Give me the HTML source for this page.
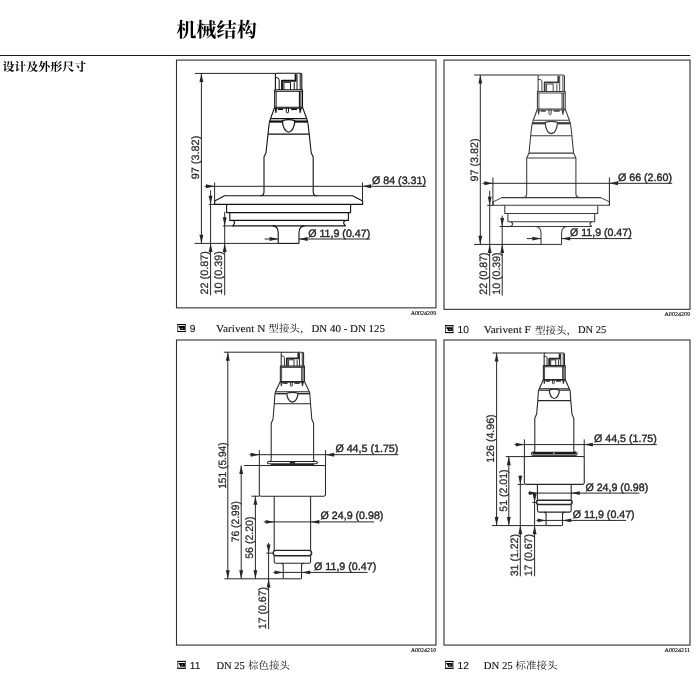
<!DOCTYPE html>
<html lang="zh"><head><meta charset="utf-8"><title>机械结构</title>
<style>
html,body{margin:0;padding:0;background:#fff;}
body{width:698px;height:680px;overflow:hidden;font-family:"Liberation Sans",sans-serif;}
svg{display:block;position:absolute;left:0;top:0;filter:grayscale(1);}
text{white-space:pre;}
</style></head><body>
<svg width="698" height="680" viewBox="0 0 698 680" shape-rendering="geometricPrecision" text-rendering="geometricPrecision">
<rect x="0" y="0" width="698" height="680" fill="#fff"/>
<text x="176.20" y="36.60" font-family="'Liberation Serif', 'Noto Serif CJK SC', serif" font-weight="bold" font-size="20.2" fill="#000" textLength="80.6" lengthAdjust="spacingAndGlyphs">机械结构</text>
<path d="M0.00 55.50L690.30 55.50" stroke="#1a1a1a" stroke-width="1.05" fill="none" />
<text x="2.40" y="71.30" font-family="'Liberation Serif', 'Noto Serif CJK SC', serif" font-weight="bold" font-size="12" fill="#000" textLength="83.9" lengthAdjust="spacingAndGlyphs">设计及外形尺寸</text>
<rect x="176.5" y="60.1" width="259.45" height="247.75" fill="none" stroke="#303030" stroke-width="1.1"/>
<rect x="444.0" y="60.1" width="246.00" height="249.25" fill="none" stroke="#303030" stroke-width="1.1"/>
<rect x="176.5" y="340.0" width="259.45" height="305.10" fill="none" stroke="#303030" stroke-width="1.1"/>
<rect x="444.0" y="340.0" width="246.00" height="305.10" fill="none" stroke="#303030" stroke-width="1.1"/>
<text x="436.2" y="314.9" text-anchor="end" font-family="'Liberation Serif', serif" font-size="5.8" fill="#000" stroke="#000" stroke-width="0.12" textLength="25.5" lengthAdjust="spacingAndGlyphs">A0024209</text>
<text x="690.0" y="316.1" text-anchor="end" font-family="'Liberation Serif', serif" font-size="5.8" fill="#000" stroke="#000" stroke-width="0.12" textLength="25.5" lengthAdjust="spacingAndGlyphs">A0024209</text>
<text x="436.2" y="652.0" text-anchor="end" font-family="'Liberation Serif', serif" font-size="5.8" fill="#000" stroke="#000" stroke-width="0.12" textLength="25.5" lengthAdjust="spacingAndGlyphs">A0024210</text>
<text x="690.0" y="652.0" text-anchor="end" font-family="'Liberation Serif', serif" font-size="5.8" fill="#000" stroke="#000" stroke-width="0.12" textLength="25.5" lengthAdjust="spacingAndGlyphs">A0024211</text>
<rect x="177.75" y="324.60" width="7.6" height="6.9" fill="#fff" stroke="#444" stroke-width="0.9"/>
<path d="M177.30 324.60L185.80 324.60" stroke="#000" stroke-width="1.0" fill="none" />
<path d="M177.30 331.50L185.80 331.50" stroke="#000" stroke-width="1.0" fill="none" />
<path d="M178.60 326.10H184.90V330.00H180.20L179.80 328.10L178.60 327.30Z" fill="#000"/>
<ellipse cx="182.30" cy="328.30" rx="0.9" ry="0.55" fill="#bbb" transform="rotate(-25 182.30 328.30)"/>
<text x="189.80" y="331.90" font-family="'Liberation Sans', sans-serif" font-size="10.2" fill="#111" stroke="#111" stroke-width="0.1" >9</text>
<text x="216.10" y="332.30" font-family="'Liberation Serif', sans-serif" font-size="10.5" fill="#111" stroke="#111" stroke-width="0.12" textLength="49.3" lengthAdjust="spacingAndGlyphs" >Varivent N</text>
<text x="268.40" y="332.40" font-family="'Liberation Serif', 'Noto Serif CJK SC', serif" font-size="10.3" fill="#111" textLength="42" lengthAdjust="spacingAndGlyphs">型接头，</text>
<text x="311.40" y="332.30" font-family="'Liberation Serif', sans-serif" font-size="10.5" fill="#111" stroke="#111" stroke-width="0.12" textLength="73.6" lengthAdjust="spacingAndGlyphs" >DN 40 - DN 125</text>
<rect x="445.45" y="325.70" width="7.6" height="6.9" fill="#fff" stroke="#444" stroke-width="0.9"/>
<path d="M445.00 325.70L453.50 325.70" stroke="#000" stroke-width="1.0" fill="none" />
<path d="M445.00 332.60L453.50 332.60" stroke="#000" stroke-width="1.0" fill="none" />
<path d="M446.30 327.20H452.60V331.10H447.90L447.50 329.20L446.30 328.40Z" fill="#000"/>
<ellipse cx="450.00" cy="329.40" rx="0.9" ry="0.55" fill="#bbb" transform="rotate(-25 450.00 329.40)"/>
<text x="457.50" y="333.00" font-family="'Liberation Sans', sans-serif" font-size="10.2" fill="#111" stroke="#111" stroke-width="0.1" >10</text>
<text x="483.80" y="333.40" font-family="'Liberation Serif', sans-serif" font-size="10.5" fill="#111" stroke="#111" stroke-width="0.12" textLength="47.0" lengthAdjust="spacingAndGlyphs" >Varivent F</text>
<text x="535.00" y="333.50" font-family="'Liberation Serif', 'Noto Serif CJK SC', serif" font-size="10.3" fill="#111" textLength="42" lengthAdjust="spacingAndGlyphs">型接头，</text>
<text x="578.00" y="333.40" font-family="'Liberation Serif', sans-serif" font-size="10.5" fill="#111" stroke="#111" stroke-width="0.12" textLength="28.3" lengthAdjust="spacingAndGlyphs" >DN 25</text>
<rect x="177.75" y="661.40" width="7.6" height="6.9" fill="#fff" stroke="#444" stroke-width="0.9"/>
<path d="M177.30 661.40L185.80 661.40" stroke="#000" stroke-width="1.0" fill="none" />
<path d="M177.30 668.30L185.80 668.30" stroke="#000" stroke-width="1.0" fill="none" />
<path d="M178.60 662.90H184.90V666.80H180.20L179.80 664.90L178.60 664.10Z" fill="#000"/>
<ellipse cx="182.30" cy="665.10" rx="0.9" ry="0.55" fill="#bbb" transform="rotate(-25 182.30 665.10)"/>
<text x="189.80" y="668.70" font-family="'Liberation Sans', sans-serif" font-size="10.2" fill="#111" stroke="#111" stroke-width="0.1" >11</text>
<text x="216.40" y="669.10" font-family="'Liberation Serif', sans-serif" font-size="10.5" fill="#111" stroke="#111" stroke-width="0.12" textLength="28.4" lengthAdjust="spacingAndGlyphs" >DN 25</text>
<text x="248.00" y="669.20" font-family="'Liberation Serif', 'Noto Serif CJK SC', serif" font-size="10.3" fill="#111" textLength="42" lengthAdjust="spacingAndGlyphs">棕色接头</text>
<rect x="445.45" y="661.40" width="7.6" height="6.9" fill="#fff" stroke="#444" stroke-width="0.9"/>
<path d="M445.00 661.40L453.50 661.40" stroke="#000" stroke-width="1.0" fill="none" />
<path d="M445.00 668.30L453.50 668.30" stroke="#000" stroke-width="1.0" fill="none" />
<path d="M446.30 662.90H452.60V666.80H447.90L447.50 664.90L446.30 664.10Z" fill="#000"/>
<ellipse cx="450.00" cy="665.10" rx="0.9" ry="0.55" fill="#bbb" transform="rotate(-25 450.00 665.10)"/>
<text x="457.50" y="668.70" font-family="'Liberation Sans', sans-serif" font-size="10.2" fill="#111" stroke="#111" stroke-width="0.1" >12</text>
<text x="483.80" y="669.10" font-family="'Liberation Serif', sans-serif" font-size="10.5" fill="#111" stroke="#111" stroke-width="0.12" textLength="28.9" lengthAdjust="spacingAndGlyphs" >DN 25</text>
<text x="515.60" y="669.20" font-family="'Liberation Serif', 'Noto Serif CJK SC', serif" font-size="10.3" fill="#111" textLength="42" lengthAdjust="spacingAndGlyphs">标准接头</text>
<path d="M275.40 89.80V74.90Q275.40 73.30 277.00 73.30H300.20Q301.80 73.30 301.80 74.90V89.80" stroke="#111" stroke-width="1.1" fill="none" stroke-linejoin="round" />
<path d="M275.40 77.50Q279.20 77.50 279.20 79.80V89.80" stroke="#111" stroke-width="0.9900000000000001" fill="none" stroke-linejoin="round" />
<path d="M282.00 89.80V80.70H295.60V74.10" stroke="#111" stroke-width="1.87" fill="none" stroke-linejoin="round" stroke-linejoin="miter"/>
<path d="M283.90 89.80V82.30H290.50V89.80" stroke="#111" stroke-width="0.9900000000000001" fill="none" stroke-linejoin="round" />
<path d="M294.20 82.30L294.20 89.80" stroke="#111" stroke-width="0.9900000000000001" fill="none" />
<path d="M297.00 74.30L297.00 89.80" stroke="#111" stroke-width="0.9900000000000001" fill="none" />
<path d="M300.20 73.90L300.20 89.80" stroke="#111" stroke-width="0.9900000000000001" fill="none" />
<path d="M274.70 89.80H302.50V107.30H274.70Z" stroke="#111" stroke-width="1.1" fill="none" stroke-linejoin="round" />
<path d="M274.70 91.30L302.50 91.30" stroke="#111" stroke-width="0.9900000000000001" fill="none" />
<path d="M276.20 91.30L276.20 107.30" stroke="#111" stroke-width="0.8800000000000001" fill="none" />
<path d="M299.40 91.30L299.40 107.30" stroke="#111" stroke-width="1.1" fill="none" />
<path d="M300.90 91.30L300.90 107.30" stroke="#111" stroke-width="0.9900000000000001" fill="none" />
<path d="M274.70 108.30L302.50 108.30" stroke="#111" stroke-width="0.8800000000000001" fill="none" />
<path d="M286.30 107.30V111.90Q286.30 112.90 287.40 112.90Q288.50 112.90 288.50 111.90V107.30" stroke="#111" stroke-width="0.9900000000000001" fill="none" stroke-linejoin="round" />
<path d="M278.00 109.20L283.00 109.20" stroke="#111" stroke-width="1.6500000000000001" fill="none" />
<path d="M291.00 109.20L297.00 109.20" stroke="#111" stroke-width="1.6500000000000001" fill="none" />
<path d="M275.30 108.30L275.80 112.80L276.80 108.30Z" stroke="#111" stroke-width="0.8800000000000001" fill="#111" stroke-linejoin="round" />
<path d="M299.40 108.30L300.20 112.80L301.20 108.30Z" stroke="#111" stroke-width="0.8800000000000001" fill="#111" stroke-linejoin="round" />
<path d="M274.70 107.30L270.50 118.60" stroke="#111" stroke-width="1.1" fill="none" />
<path d="M302.50 107.30L306.70 118.60" stroke="#111" stroke-width="1.1" fill="none" />
<path d="M270.50 118.60L306.70 118.60" stroke="#111" stroke-width="1.1" fill="none" />
<path d="M270.50 118.60L269.30 122.70" stroke="#111" stroke-width="1.1" fill="none" />
<path d="M306.70 118.60L307.90 122.70" stroke="#111" stroke-width="1.1" fill="none" />
<path d="M269.60 121.55L282.45 121.55" stroke="#111" stroke-width="2.2549999999999972" fill="none" />
<path d="M294.75 121.55L307.60 121.55" stroke="#111" stroke-width="2.2549999999999972" fill="none" />
<path d="M282.45 120.63Q288.60 118.83 294.75 120.63C294.75 126.62 291.98 132.00 288.60 132.00C285.22 132.00 282.45 126.62 282.45 120.63Z" stroke="#111" stroke-width="1.2100000000000002" fill="#fff" stroke-linejoin="round" />
<path d="M269.30 122.70L268.00 134.10" stroke="#111" stroke-width="1.1" fill="none" />
<path d="M307.90 122.70L309.20 134.10" stroke="#111" stroke-width="1.1" fill="none" />
<path d="M268.00 134.10L309.20 134.10" stroke="#111" stroke-width="1.1" fill="none" />
<path d="M268.00 134.10L266.00 152.70L264.00 156.90V191.80Q264.00 195.80 260.40 195.80" stroke="#111" stroke-width="1.1" fill="none" stroke-linejoin="round" />
<path d="M309.20 134.10L311.20 152.70L313.20 156.90V191.80Q313.20 195.80 316.80 195.80" stroke="#111" stroke-width="1.1" fill="none" stroke-linejoin="round" />
<path d="M214.60 204.40V201.00L224.60 195.80H352.60L362.60 201.00V204.40Z" stroke="#111" stroke-width="1.1" fill="none" stroke-linejoin="round" />
<path d="M226.60 204.40V212.60H350.60V204.40" stroke="#111" stroke-width="1.1" fill="none" stroke-linejoin="round" />
<path d="M229.80 212.60V220.40H348.40V212.60" stroke="#111" stroke-width="1.1" fill="none" stroke-linejoin="round" />
<path d="M232.80 220.40Q235.20 222.00 234.40 223.40Q233.60 224.90 232.60 225.90" stroke="#111" stroke-width="1.1" fill="none" stroke-linejoin="round" />
<path d="M345.40 220.40Q343.00 222.00 343.80 223.40Q344.60 224.90 345.60 225.90" stroke="#111" stroke-width="1.1" fill="none" stroke-linejoin="round" />
<path d="M232.60 225.90L345.60 225.90" stroke="#111" stroke-width="1.1" fill="none" />
<path d="M272.80 225.90Q278.00 226.20 278.20 232.40V242.70Q278.20 243.40 278.90 243.40" stroke="#111" stroke-width="1.1" fill="none" stroke-linejoin="round" />
<path d="M304.40 225.90Q299.20 226.20 299.00 232.40V242.70Q299.00 243.40 298.30 243.40" stroke="#111" stroke-width="1.1" fill="none" stroke-linejoin="round" />
<path d="M278.20 243.40L299.00 243.40" stroke="#111" stroke-width="1.1" fill="none" />
<path d="M194.80 73.40L276.50 73.40" stroke="#262626" stroke-width="1.0" fill="none" />
<path d="M194.60 243.40L278.20 243.40" stroke="#262626" stroke-width="1.0" fill="none" />
<path d="M201.40 73.40L201.40 243.40" stroke="#262626" stroke-width="1.0" fill="none" />
<polygon points="201.40,73.40 199.45,82.00 203.35,82.00" fill="#262626"/>
<polygon points="201.40,243.40 199.45,234.80 203.35,234.80" fill="#262626"/>
<text transform="translate(199.00 179.30) rotate(-90)" font-family="'Liberation Sans', sans-serif" font-size="10.7" fill="#262626" stroke="#262626" stroke-width="0.24" textLength="43.6" lengthAdjust="spacingAndGlyphs">97 (3.82)</text>
<path d="M214.60 182.50L214.60 204.20" stroke="#262626" stroke-width="1.0" fill="none" />
<path d="M362.50 182.50L362.50 204.20" stroke="#262626" stroke-width="1.0" fill="none" />
<path d="M204.50 186.30L426.00 186.30" stroke="#262626" stroke-width="1.0" fill="none" />
<polygon points="214.60,186.30 206.00,184.35 206.00,188.25" fill="#262626"/>
<polygon points="362.50,186.30 371.10,184.35 371.10,188.25" fill="#262626"/>
<text x="372.00" y="183.80" font-family="'Liberation Sans', sans-serif" font-size="10.7" fill="#262626" stroke="#262626" stroke-width="0.4" textLength="54.0" lengthAdjust="spacingAndGlyphs" >Ø 84 (3.31)</text>
<path d="M208.90 204.40L214.60 204.40" stroke="#262626" stroke-width="1.0" fill="none" />
<path d="M210.60 190.30L210.60 295.40" stroke="#262626" stroke-width="1.0" fill="none" />
<polygon points="210.60,204.40 208.65,195.80 212.55,195.80" fill="#262626"/>
<polygon points="210.60,243.40 208.65,252.00 212.55,252.00" fill="#262626"/>
<text transform="translate(208.30 294.50) rotate(-90)" font-family="'Liberation Sans', sans-serif" font-size="10.7" fill="#262626" stroke="#262626" stroke-width="0.24" textLength="43.3" lengthAdjust="spacingAndGlyphs">22 (0.87)</text>
<path d="M222.90 225.90L234.00 225.90" stroke="#262626" stroke-width="1.0" fill="none" />
<path d="M224.70 211.70L224.70 295.40" stroke="#262626" stroke-width="1.0" fill="none" />
<polygon points="224.70,225.90 222.75,217.30 226.65,217.30" fill="#262626"/>
<polygon points="224.70,243.40 222.75,252.00 226.65,252.00" fill="#262626"/>
<text transform="translate(222.40 294.50) rotate(-90)" font-family="'Liberation Sans', sans-serif" font-size="10.7" fill="#262626" stroke="#262626" stroke-width="0.24" textLength="43.3" lengthAdjust="spacingAndGlyphs">10 (0.39)</text>
<path d="M264.60 239.00L278.20 239.00" stroke="#262626" stroke-width="1.0" fill="none" />
<polygon points="278.20,239.00 269.60,237.05 269.60,240.95" fill="#262626"/>
<path d="M299.00 239.00L370.20 239.00" stroke="#262626" stroke-width="1.0" fill="none" />
<polygon points="299.00,239.00 307.60,237.05 307.60,240.95" fill="#262626"/>
<text x="308.20" y="236.60" font-family="'Liberation Sans', sans-serif" font-size="10.7" fill="#262626" stroke="#262626" stroke-width="0.4" textLength="62.0" lengthAdjust="spacingAndGlyphs" >Ø 11,9 (0.47)</text>
<path d="M538.10 91.50V76.60Q538.10 75.00 539.70 75.00H562.90Q564.50 75.00 564.50 76.60V91.50" stroke="#3a3a3a" stroke-width="1.05" fill="none" stroke-linejoin="round" />
<path d="M538.10 79.20Q541.90 79.20 541.90 81.50V91.50" stroke="#3a3a3a" stroke-width="0.9450000000000001" fill="none" stroke-linejoin="round" />
<path d="M544.70 91.50V82.40H558.30V75.80" stroke="#3a3a3a" stroke-width="1.785" fill="none" stroke-linejoin="round" stroke-linejoin="miter"/>
<path d="M546.60 91.50V84.00H553.20V91.50" stroke="#3a3a3a" stroke-width="0.9450000000000001" fill="none" stroke-linejoin="round" />
<path d="M556.90 84.00L556.90 91.50" stroke="#3a3a3a" stroke-width="0.9450000000000001" fill="none" />
<path d="M559.70 76.00L559.70 91.50" stroke="#3a3a3a" stroke-width="0.9450000000000001" fill="none" />
<path d="M562.90 75.60L562.90 91.50" stroke="#3a3a3a" stroke-width="0.9450000000000001" fill="none" />
<path d="M537.40 91.50H565.20V109.00H537.40Z" stroke="#3a3a3a" stroke-width="1.05" fill="none" stroke-linejoin="round" />
<path d="M537.40 93.00L565.20 93.00" stroke="#3a3a3a" stroke-width="0.9450000000000001" fill="none" />
<path d="M538.90 93.00L538.90 109.00" stroke="#3a3a3a" stroke-width="0.8400000000000001" fill="none" />
<path d="M562.10 93.00L562.10 109.00" stroke="#3a3a3a" stroke-width="1.05" fill="none" />
<path d="M563.60 93.00L563.60 109.00" stroke="#3a3a3a" stroke-width="0.9450000000000001" fill="none" />
<path d="M537.40 110.00L565.20 110.00" stroke="#3a3a3a" stroke-width="0.8400000000000001" fill="none" />
<path d="M549.00 109.00V113.60Q549.00 114.60 550.10 114.60Q551.20 114.60 551.20 113.60V109.00" stroke="#3a3a3a" stroke-width="0.9450000000000001" fill="none" stroke-linejoin="round" />
<path d="M540.70 110.90L545.70 110.90" stroke="#3a3a3a" stroke-width="1.5750000000000002" fill="none" />
<path d="M553.70 110.90L559.70 110.90" stroke="#3a3a3a" stroke-width="1.5750000000000002" fill="none" />
<path d="M538.00 110.00L538.50 114.50L539.50 110.00Z" stroke="#3a3a3a" stroke-width="0.8400000000000001" fill="#3a3a3a" stroke-linejoin="round" />
<path d="M562.10 110.00L562.90 114.50L563.90 110.00Z" stroke="#3a3a3a" stroke-width="0.8400000000000001" fill="#3a3a3a" stroke-linejoin="round" />
<path d="M537.40 109.00L533.20 120.30" stroke="#3a3a3a" stroke-width="1.05" fill="none" />
<path d="M565.20 109.00L569.40 120.30" stroke="#3a3a3a" stroke-width="1.05" fill="none" />
<path d="M533.20 120.30L569.40 120.30" stroke="#3a3a3a" stroke-width="1.05" fill="none" />
<path d="M533.20 120.30L532.00 124.40" stroke="#3a3a3a" stroke-width="1.05" fill="none" />
<path d="M569.40 120.30L570.60 124.40" stroke="#3a3a3a" stroke-width="1.05" fill="none" />
<path d="M532.30 123.25L545.15 123.25" stroke="#3a3a3a" stroke-width="2.255000000000005" fill="none" />
<path d="M557.45 123.25L570.30 123.25" stroke="#3a3a3a" stroke-width="2.255000000000005" fill="none" />
<path d="M545.15 122.33Q551.30 120.53 557.45 122.33C557.45 128.32 554.68 133.70 551.30 133.70C547.92 133.70 545.15 128.32 545.15 122.33Z" stroke="#3a3a3a" stroke-width="1.1550000000000002" fill="#fff" stroke-linejoin="round" />
<path d="M532.00 124.40L530.70 135.80" stroke="#3a3a3a" stroke-width="1.05" fill="none" />
<path d="M570.60 124.40L571.90 135.80" stroke="#3a3a3a" stroke-width="1.05" fill="none" />
<path d="M530.70 135.80L571.90 135.80" stroke="#3a3a3a" stroke-width="1.05" fill="none" />
<path d="M530.70 135.80L529.00 153.10L526.70 157.90V193.60Q526.70 197.60 523.30 197.60" stroke="#3a3a3a" stroke-width="1.05" fill="none" stroke-linejoin="round" />
<path d="M571.90 135.80L573.60 153.10L575.90 157.90V193.60Q575.90 197.60 579.30 197.60" stroke="#3a3a3a" stroke-width="1.05" fill="none" stroke-linejoin="round" />
<path d="M529.00 153.10L573.60 153.10" stroke="#3a3a3a" stroke-width="1.05" fill="none" />
<path d="M526.70 157.90L575.90 157.90" stroke="#3a3a3a" stroke-width="1.05" fill="none" />
<path d="M493.10 205.30V201.90L501.90 197.60H600.70L609.50 201.90V205.30Z" stroke="#3a3a3a" stroke-width="1.05" fill="none" stroke-linejoin="round" />
<path d="M504.80 205.30V213.50H597.80V205.30" stroke="#3a3a3a" stroke-width="1.05" fill="none" stroke-linejoin="round" />
<path d="M507.90 213.50V221.80H594.70V213.50" stroke="#3a3a3a" stroke-width="1.05" fill="none" stroke-linejoin="round" />
<path d="M510.90 221.80Q513.30 223.40 512.50 224.80Q511.70 225.50 510.70 226.50" stroke="#3a3a3a" stroke-width="1.05" fill="none" stroke-linejoin="round" />
<path d="M591.70 221.80Q589.30 223.40 590.10 224.80Q590.90 225.50 591.90 226.50" stroke="#3a3a3a" stroke-width="1.05" fill="none" stroke-linejoin="round" />
<path d="M510.70 226.50L591.90 226.50" stroke="#3a3a3a" stroke-width="1.05" fill="none" />
<path d="M535.60 226.50Q540.80 226.80 541.00 233.00V243.70Q541.00 244.40 541.70 244.40" stroke="#3a3a3a" stroke-width="1.05" fill="none" stroke-linejoin="round" />
<path d="M567.00 226.50Q561.80 226.80 561.60 233.00V243.70Q561.60 244.40 560.90 244.40" stroke="#3a3a3a" stroke-width="1.05" fill="none" stroke-linejoin="round" />
<path d="M541.00 244.40L561.60 244.40" stroke="#3a3a3a" stroke-width="1.05" fill="none" />
<path d="M474.00 75.00L538.50 75.00" stroke="#262626" stroke-width="1.0" fill="none" />
<path d="M474.00 244.40L541.00 244.40" stroke="#262626" stroke-width="1.0" fill="none" />
<path d="M480.30 75.00L480.30 244.40" stroke="#262626" stroke-width="1.0" fill="none" />
<polygon points="480.30,75.00 478.35,83.60 482.25,83.60" fill="#262626"/>
<polygon points="480.30,244.40 478.35,235.80 482.25,235.80" fill="#262626"/>
<text transform="translate(477.90 181.40) rotate(-90)" font-family="'Liberation Sans', sans-serif" font-size="10.7" fill="#262626" stroke="#262626" stroke-width="0.24" textLength="43.0" lengthAdjust="spacingAndGlyphs">97 (3.82)</text>
<path d="M492.90 177.50L492.90 205.30" stroke="#262626" stroke-width="1.0" fill="none" />
<path d="M609.40 177.50L609.40 205.30" stroke="#262626" stroke-width="1.0" fill="none" />
<path d="M482.50 183.30L672.20 183.30" stroke="#262626" stroke-width="1.0" fill="none" />
<polygon points="492.90,183.30 484.30,181.35 484.30,185.25" fill="#262626"/>
<polygon points="609.40,183.30 618.00,181.35 618.00,185.25" fill="#262626"/>
<text x="617.90" y="180.90" font-family="'Liberation Sans', sans-serif" font-size="10.7" fill="#262626" stroke="#262626" stroke-width="0.4" textLength="54.1" lengthAdjust="spacingAndGlyphs" >Ø 66 (2.60)</text>
<path d="M487.20 205.30L493.00 205.30" stroke="#262626" stroke-width="1.0" fill="none" />
<path d="M489.70 190.90L489.70 295.60" stroke="#262626" stroke-width="1.0" fill="none" />
<polygon points="489.70,205.30 487.75,196.70 491.65,196.70" fill="#262626"/>
<polygon points="489.70,244.40 487.75,253.00 491.65,253.00" fill="#262626"/>
<text transform="translate(487.40 294.70) rotate(-90)" font-family="'Liberation Sans', sans-serif" font-size="10.7" fill="#262626" stroke="#262626" stroke-width="0.24" textLength="42.3" lengthAdjust="spacingAndGlyphs">22 (0.87)</text>
<path d="M499.60 226.50L511.00 226.50" stroke="#262626" stroke-width="1.0" fill="none" />
<path d="M502.20 215.60L502.20 295.60" stroke="#262626" stroke-width="1.0" fill="none" />
<polygon points="502.20,226.50 500.25,217.90 504.15,217.90" fill="#262626"/>
<polygon points="502.20,244.40 500.25,253.00 504.15,253.00" fill="#262626"/>
<text transform="translate(499.90 294.70) rotate(-90)" font-family="'Liberation Sans', sans-serif" font-size="10.7" fill="#262626" stroke="#262626" stroke-width="0.24" textLength="42.3" lengthAdjust="spacingAndGlyphs">10 (0.39)</text>
<path d="M526.90 238.60L541.00 238.60" stroke="#262626" stroke-width="1.0" fill="none" />
<polygon points="541.00,238.60 532.40,236.65 532.40,240.55" fill="#262626"/>
<path d="M561.60 238.60L631.70 238.60" stroke="#262626" stroke-width="1.0" fill="none" />
<polygon points="561.60,238.60 570.20,236.65 570.20,240.55" fill="#262626"/>
<text x="570.00" y="236.20" font-family="'Liberation Sans', sans-serif" font-size="10.7" fill="#262626" stroke="#262626" stroke-width="0.4" textLength="61.7" lengthAdjust="spacingAndGlyphs" >Ø 11,9 (0.47)</text>
<path d="M281.20 366.10V353.56Q281.20 352.20 282.56 352.20H302.24Q303.60 352.20 303.60 353.56V366.10" stroke="#262626" stroke-width="1.05" fill="none" stroke-linejoin="round" />
<path d="M281.20 355.74Q284.42 355.74 284.42 357.68V366.10" stroke="#262626" stroke-width="0.9450000000000001" fill="none" stroke-linejoin="round" />
<path d="M286.80 366.10V358.43H298.34V352.87" stroke="#262626" stroke-width="1.785" fill="none" stroke-linejoin="round" stroke-linejoin="miter"/>
<path d="M288.41 366.10V359.78H294.01V366.10" stroke="#262626" stroke-width="0.9450000000000001" fill="none" stroke-linejoin="round" />
<path d="M297.15 359.78L297.15 366.10" stroke="#262626" stroke-width="0.9450000000000001" fill="none" />
<path d="M299.53 353.04L299.53 366.10" stroke="#262626" stroke-width="0.9450000000000001" fill="none" />
<path d="M302.24 352.71L302.24 366.10" stroke="#262626" stroke-width="0.9450000000000001" fill="none" />
<path d="M280.35 366.10H304.45V381.50H280.35Z" stroke="#262626" stroke-width="1.05" fill="none" stroke-linejoin="round" />
<path d="M280.35 367.36L304.45 367.36" stroke="#262626" stroke-width="0.9450000000000001" fill="none" />
<path d="M281.65 367.36L281.65 381.50" stroke="#262626" stroke-width="0.8400000000000001" fill="none" />
<path d="M301.76 367.36L301.76 381.50" stroke="#262626" stroke-width="1.05" fill="none" />
<path d="M303.06 367.36L303.06 381.50" stroke="#262626" stroke-width="0.9450000000000001" fill="none" />
<path d="M280.35 382.34L304.45 382.34" stroke="#262626" stroke-width="0.8400000000000001" fill="none" />
<path d="M290.41 381.50V385.22Q290.41 386.22 291.36 386.22Q292.31 386.22 292.31 385.22V381.50" stroke="#262626" stroke-width="0.9450000000000001" fill="none" stroke-linejoin="round" />
<path d="M283.21 383.10L287.55 383.10" stroke="#262626" stroke-width="1.5750000000000002" fill="none" />
<path d="M294.48 383.10L299.68 383.10" stroke="#262626" stroke-width="1.5750000000000002" fill="none" />
<path d="M280.87 382.50L281.30 386.13L282.17 382.50Z" stroke="#262626" stroke-width="0.8400000000000001" fill="#262626" stroke-linejoin="round" />
<path d="M301.76 382.50L302.46 386.13L303.32 382.50Z" stroke="#262626" stroke-width="0.8400000000000001" fill="#262626" stroke-linejoin="round" />
<path d="M280.35 381.50L275.40 391.80" stroke="#262626" stroke-width="1.05" fill="none" />
<path d="M304.45 381.50L309.40 391.80" stroke="#262626" stroke-width="1.05" fill="none" />
<path d="M275.40 391.80L309.40 391.80" stroke="#262626" stroke-width="1.05" fill="none" />
<path d="M275.40 391.80L274.90 394.40" stroke="#262626" stroke-width="1.05" fill="none" />
<path d="M309.40 391.80L309.90 394.40" stroke="#262626" stroke-width="1.05" fill="none" />
<path d="M275.20 393.67L286.82 393.67" stroke="#262626" stroke-width="1.4299999999999813" fill="none" />
<path d="M297.98 393.67L309.60 393.67" stroke="#262626" stroke-width="1.4299999999999813" fill="none" />
<path d="M286.82 393.31Q292.40 391.51 297.98 393.31C297.98 397.87 295.47 402.10 292.40 402.10C289.33 402.10 286.82 397.87 286.82 393.31Z" stroke="#262626" stroke-width="1.1550000000000002" fill="#fff" stroke-linejoin="round" />
<path d="M274.90 394.40L274.30 403.70" stroke="#262626" stroke-width="1.05" fill="none" />
<path d="M309.90 394.40L310.50 403.70" stroke="#262626" stroke-width="1.05" fill="none" />
<path d="M274.30 403.70L310.50 403.70" stroke="#262626" stroke-width="1.05" fill="none" />
<path d="M274.30 403.70L273.00 419.20L271.20 423.30L271.20 459.40" stroke="#262626" stroke-width="1.05" fill="none" stroke-linejoin="round" />
<path d="M310.50 403.70L311.80 419.20L313.60 423.30L313.60 459.40" stroke="#262626" stroke-width="1.05" fill="none" stroke-linejoin="round" />
<path d="M271.20 459.40Q271.20 461.40 269.20 461.40" stroke="#262626" stroke-width="1.05" fill="none" stroke-linejoin="round" />
<path d="M313.60 459.40Q313.60 461.40 315.60 461.40" stroke="#262626" stroke-width="1.05" fill="none" stroke-linejoin="round" />
<rect x="267.40" y="461.40" width="50.00" height="2.30" rx="1.1" fill="#fff" stroke="#262626" stroke-width="1.05"/>
<path d="M270.90 464.60L313.90 464.60" stroke="#262626" stroke-width="1.3" fill="none" />
<path d="M289.80 462.55L295.00 462.55" stroke="#262626" stroke-width="2.1" fill="none" />
<rect x="259.30" y="465.50" width="66.20" height="30.70" rx="1.6" fill="none" stroke="#262626" stroke-width="1.05"/>
<path d="M274.20 496.20L274.20 550.40" stroke="#262626" stroke-width="1.05" fill="none" />
<path d="M310.60 496.20L310.60 550.40" stroke="#262626" stroke-width="1.05" fill="none" />
<rect x="273.20" y="550.40" width="38.40" height="5.40" rx="2.70" fill="#fff" stroke="#262626" stroke-width="1.4175000000000002"/>
<path d="M274.20 555.80V561.50Q274.20 563.30 276.00 563.30H308.80Q310.60 563.30 310.60 561.50V555.80" stroke="#262626" stroke-width="1.05" fill="none" stroke-linejoin="round" />
<path d="M281.05 563.30Q283.25 563.30 283.25 565.50V578.00Q283.25 578.80 284.05 578.80" stroke="#262626" stroke-width="1.05" fill="none" stroke-linejoin="round" />
<path d="M303.75 563.30Q301.55 563.30 301.55 565.50V578.00Q301.55 578.80 300.75 578.80" stroke="#262626" stroke-width="1.05" fill="none" stroke-linejoin="round" />
<path d="M284.05 578.80L300.75 578.80" stroke="#262626" stroke-width="1.05" fill="none" />
<path d="M223.90 352.20L282.00 352.20" stroke="#262626" stroke-width="1.0" fill="none" />
<path d="M224.30 578.80L283.50 578.80" stroke="#262626" stroke-width="1.0" fill="none" />
<path d="M227.80 352.20L227.80 578.80" stroke="#262626" stroke-width="1.0" fill="none" />
<polygon points="227.80,352.20 225.85,360.80 229.75,360.80" fill="#262626"/>
<polygon points="227.80,578.80 225.85,570.20 229.75,570.20" fill="#262626"/>
<text transform="translate(225.50 488.80) rotate(-90)" font-family="'Liberation Sans', sans-serif" font-size="10.7" fill="#262626" stroke="#262626" stroke-width="0.24" textLength="46.4" lengthAdjust="spacingAndGlyphs">151 (5.94)</text>
<path d="M244.20 465.50L259.30 465.50" stroke="#262626" stroke-width="1.0" fill="none" />
<path d="M241.20 465.50L241.20 578.80" stroke="#262626" stroke-width="1.0" fill="none" />
<polygon points="241.20,465.50 239.25,474.10 243.15,474.10" fill="#262626"/>
<polygon points="241.20,578.80 239.25,570.20 243.15,570.20" fill="#262626"/>
<text transform="translate(238.90 542.30) rotate(-90)" font-family="'Liberation Sans', sans-serif" font-size="10.7" fill="#262626" stroke="#262626" stroke-width="0.24" textLength="41.3" lengthAdjust="spacingAndGlyphs">76 (2.99)</text>
<path d="M251.50 496.20L259.30 496.20" stroke="#262626" stroke-width="1.0" fill="none" />
<path d="M255.40 496.20L255.40 578.80" stroke="#262626" stroke-width="1.0" fill="none" />
<polygon points="255.40,496.20 253.45,504.80 257.35,504.80" fill="#262626"/>
<polygon points="255.40,578.80 253.45,570.20 257.35,570.20" fill="#262626"/>
<text transform="translate(253.10 558.80) rotate(-90)" font-family="'Liberation Sans', sans-serif" font-size="10.7" fill="#262626" stroke="#262626" stroke-width="0.24" textLength="42.3" lengthAdjust="spacingAndGlyphs">56 (2.20)</text>
<path d="M259.35 450.20L259.35 466.00" stroke="#262626" stroke-width="1.0" fill="none" />
<path d="M325.55 450.20L325.55 466.00" stroke="#262626" stroke-width="1.0" fill="none" />
<path d="M249.50 454.70L398.40 454.70" stroke="#262626" stroke-width="1.0" fill="none" />
<polygon points="259.30,454.70 250.70,452.75 250.70,456.65" fill="#262626"/>
<polygon points="325.60,454.70 334.20,452.75 334.20,456.65" fill="#262626"/>
<text x="335.40" y="452.20" font-family="'Liberation Sans', sans-serif" font-size="10.7" fill="#262626" stroke="#262626" stroke-width="0.4" textLength="63.0" lengthAdjust="spacingAndGlyphs" >Ø 44,5 (1.75)</text>
<path d="M263.80 521.90L374.10 521.90" stroke="#262626" stroke-width="1.0" fill="none" />
<polygon points="274.20,521.90 265.60,519.95 265.60,523.85" fill="#262626"/>
<polygon points="310.70,521.90 319.30,519.95 319.30,523.85" fill="#262626"/>
<text x="320.60" y="519.40" font-family="'Liberation Sans', sans-serif" font-size="10.7" fill="#262626" stroke="#262626" stroke-width="0.4" textLength="62.8" lengthAdjust="spacingAndGlyphs" >Ø 24,9 (0.98)</text>
<path d="M266.30 553.10L273.30 553.10" stroke="#262626" stroke-width="1.0" fill="none" />
<path d="M268.60 542.90L268.60 629.20" stroke="#262626" stroke-width="1.0" fill="none" />
<polygon points="268.60,553.10 266.65,544.50 270.55,544.50" fill="#262626"/>
<polygon points="268.60,578.80 266.65,587.40 270.55,587.40" fill="#262626"/>
<text transform="translate(266.30 629.20) rotate(-90)" font-family="'Liberation Sans', sans-serif" font-size="10.7" fill="#262626" stroke="#262626" stroke-width="0.24" textLength="42.3" lengthAdjust="spacingAndGlyphs">17 (0.67)</text>
<path d="M273.30 572.40L367.50 572.40" stroke="#262626" stroke-width="1.0" fill="none" />
<polygon points="283.30,572.40 274.70,570.45 274.70,574.35" fill="#262626"/>
<polygon points="301.60,572.40 310.20,570.45 310.20,574.35" fill="#262626"/>
<text x="314.00" y="569.90" font-family="'Liberation Sans', sans-serif" font-size="10.7" fill="#262626" stroke="#262626" stroke-width="0.4" textLength="62.2" lengthAdjust="spacingAndGlyphs" >Ø 11,9 (0.47)</text>
<path d="M544.15 365.60V354.23Q544.15 353.00 545.38 353.00H563.22Q564.45 353.00 564.45 354.23V365.60" stroke="#262626" stroke-width="1.08" fill="none" stroke-linejoin="round" />
<path d="M544.15 356.21Q547.07 356.21 547.07 357.96V365.60" stroke="#262626" stroke-width="0.9720000000000001" fill="none" stroke-linejoin="round" />
<path d="M549.22 365.60V358.65H559.68V353.61" stroke="#262626" stroke-width="1.836" fill="none" stroke-linejoin="round" stroke-linejoin="miter"/>
<path d="M550.69 365.60V359.87H555.76V365.60" stroke="#262626" stroke-width="0.9720000000000001" fill="none" stroke-linejoin="round" />
<path d="M558.61 359.87L558.61 365.60" stroke="#262626" stroke-width="0.9720000000000001" fill="none" />
<path d="M560.76 353.76L560.76 365.60" stroke="#262626" stroke-width="0.9720000000000001" fill="none" />
<path d="M563.22 353.46L563.22 365.60" stroke="#262626" stroke-width="0.9720000000000001" fill="none" />
<path d="M543.40 365.60H565.20V379.50H543.40Z" stroke="#262626" stroke-width="1.08" fill="none" stroke-linejoin="round" />
<path d="M543.40 366.75L565.20 366.75" stroke="#262626" stroke-width="0.9720000000000001" fill="none" />
<path d="M544.58 366.75L544.58 379.50" stroke="#262626" stroke-width="0.8640000000000001" fill="none" />
<path d="M562.77 366.75L562.77 379.50" stroke="#262626" stroke-width="1.08" fill="none" />
<path d="M563.95 366.75L563.95 379.50" stroke="#262626" stroke-width="0.9720000000000001" fill="none" />
<path d="M543.40 380.26L565.20 380.26" stroke="#262626" stroke-width="0.8640000000000001" fill="none" />
<path d="M552.50 379.50V382.78Q552.50 383.78 553.36 383.78Q554.22 383.78 554.22 382.78V379.50" stroke="#262626" stroke-width="0.9720000000000001" fill="none" stroke-linejoin="round" />
<path d="M545.99 380.95L549.91 380.95" stroke="#262626" stroke-width="1.62" fill="none" />
<path d="M556.18 380.95L560.89 380.95" stroke="#262626" stroke-width="1.62" fill="none" />
<path d="M543.87 380.50L544.26 383.70L545.05 380.50Z" stroke="#262626" stroke-width="0.8640000000000001" fill="#262626" stroke-linejoin="round" />
<path d="M562.77 380.50L563.40 383.70L564.18 380.50Z" stroke="#262626" stroke-width="0.8640000000000001" fill="#262626" stroke-linejoin="round" />
<path d="M543.40 379.50L539.30 388.75" stroke="#262626" stroke-width="1.08" fill="none" />
<path d="M565.20 379.50L569.30 388.75" stroke="#262626" stroke-width="1.08" fill="none" />
<path d="M539.30 388.75L569.30 388.75" stroke="#262626" stroke-width="1.08" fill="none" />
<path d="M539.30 388.75L538.45 390.80" stroke="#262626" stroke-width="1.08" fill="none" />
<path d="M569.30 388.75L570.15 390.80" stroke="#262626" stroke-width="1.08" fill="none" />
<path d="M538.75 390.23L549.25 390.23" stroke="#262626" stroke-width="1.1275000000000064" fill="none" />
<path d="M559.35 390.23L569.85 390.23" stroke="#262626" stroke-width="1.1275000000000064" fill="none" />
<path d="M549.25 390.07Q554.30 388.27 559.35 390.07C559.35 394.44 557.08 398.50 554.30 398.50C551.52 398.50 549.25 394.44 549.25 390.07Z" stroke="#262626" stroke-width="1.1880000000000002" fill="#fff" stroke-linejoin="round" />
<path d="M538.45 390.80L537.80 400.60" stroke="#262626" stroke-width="1.08" fill="none" />
<path d="M570.15 390.80L570.80 400.60" stroke="#262626" stroke-width="1.08" fill="none" />
<path d="M537.80 400.60L570.80 400.60" stroke="#262626" stroke-width="1.08" fill="none" />
<path d="M537.80 400.60L536.65 414.00L534.80 418.20L534.80 450.40" stroke="#262626" stroke-width="1.08" fill="none" stroke-linejoin="round" />
<path d="M570.80 400.60L571.95 414.00L573.80 418.20L573.80 450.40" stroke="#262626" stroke-width="1.08" fill="none" stroke-linejoin="round" />
<path d="M534.80 450.40Q534.80 452.30 532.80 452.30" stroke="#262626" stroke-width="1.08" fill="none" stroke-linejoin="round" />
<path d="M573.80 450.40Q573.80 452.30 575.80 452.30" stroke="#262626" stroke-width="1.08" fill="none" stroke-linejoin="round" />
<rect x="531.50" y="452.30" width="45.60" height="2.90" rx="1.1" fill="#fff" stroke="#262626" stroke-width="1.08"/>
<path d="M532.70 453.10L575.90 453.10" stroke="#111" stroke-width="1.7" fill="none" />
<path d="M532.70 455.00L575.90 455.00" stroke="#262626" stroke-width="0.8" fill="none" />
<circle cx="553.80" cy="453.30" r="0.8" fill="#ddd"/>
<rect x="524.35" y="456.50" width="59.90" height="27.90" rx="1.6" fill="none" stroke="#262626" stroke-width="1.08"/>
<path d="M537.40 484.40L537.40 500.20" stroke="#262626" stroke-width="1.08" fill="none" />
<path d="M571.20 484.40L571.20 500.20" stroke="#262626" stroke-width="1.08" fill="none" />
<rect x="536.50" y="500.20" width="35.60" height="4.30" rx="2.15" fill="#fff" stroke="#262626" stroke-width="1.4580000000000002"/>
<path d="M537.40 504.50V510.30Q537.40 512.10 539.20 512.10H569.40Q571.20 512.10 571.20 510.30V504.50" stroke="#262626" stroke-width="1.08" fill="none" stroke-linejoin="round" />
<path d="M543.90 512.10Q546.10 512.10 546.10 514.30V524.80Q546.10 525.60 546.90 525.60" stroke="#262626" stroke-width="1.08" fill="none" stroke-linejoin="round" />
<path d="M564.70 512.10Q562.50 512.10 562.50 514.30V524.80Q562.50 525.60 561.70 525.60" stroke="#262626" stroke-width="1.08" fill="none" stroke-linejoin="round" />
<path d="M546.90 525.60L561.70 525.60" stroke="#262626" stroke-width="1.08" fill="none" />
<path d="M492.50 353.00L545.00 353.00" stroke="#262626" stroke-width="1.0" fill="none" />
<path d="M491.90 525.60L546.20 525.60" stroke="#262626" stroke-width="1.0" fill="none" />
<path d="M496.60 353.00L496.60 525.60" stroke="#262626" stroke-width="1.0" fill="none" />
<polygon points="496.60,353.00 494.65,361.60 498.55,361.60" fill="#262626"/>
<polygon points="496.60,525.60 494.65,517.00 498.55,517.00" fill="#262626"/>
<text transform="translate(494.30 462.70) rotate(-90)" font-family="'Liberation Sans', sans-serif" font-size="10.7" fill="#262626" stroke="#262626" stroke-width="0.24" textLength="48.3" lengthAdjust="spacingAndGlyphs">126 (4.96)</text>
<path d="M505.70 456.60L524.20 456.60" stroke="#262626" stroke-width="1.0" fill="none" />
<path d="M508.80 456.60L508.80 525.60" stroke="#262626" stroke-width="1.0" fill="none" />
<polygon points="508.80,456.60 506.85,465.20 510.75,465.20" fill="#262626"/>
<polygon points="508.80,525.60 506.85,517.00 510.75,517.00" fill="#262626"/>
<text transform="translate(506.50 511.70) rotate(-90)" font-family="'Liberation Sans', sans-serif" font-size="10.7" fill="#262626" stroke="#262626" stroke-width="0.24" textLength="42.3" lengthAdjust="spacingAndGlyphs">51 (2.01)</text>
<path d="M524.40 439.40L524.40 457.50" stroke="#262626" stroke-width="1.0" fill="none" />
<path d="M584.20 439.40L584.20 457.50" stroke="#262626" stroke-width="1.0" fill="none" />
<path d="M514.50 444.60L656.80 444.60" stroke="#262626" stroke-width="1.0" fill="none" />
<polygon points="524.40,444.60 515.80,442.65 515.80,446.55" fill="#262626"/>
<polygon points="584.20,444.60 592.80,442.65 592.80,446.55" fill="#262626"/>
<text x="594.00" y="441.90" font-family="'Liberation Sans', sans-serif" font-size="10.7" fill="#262626" stroke="#262626" stroke-width="0.4" textLength="62.8" lengthAdjust="spacingAndGlyphs" >Ø 44,5 (1.75)</text>
<path d="M517.60 484.40L524.20 484.40" stroke="#262626" stroke-width="1.0" fill="none" />
<path d="M520.30 475.60L520.30 576.30" stroke="#262626" stroke-width="1.0" fill="none" />
<polygon points="520.30,484.40 518.35,475.80 522.25,475.80" fill="#262626"/>
<polygon points="520.30,525.60 518.35,534.20 522.25,534.20" fill="#262626"/>
<text transform="translate(518.00 576.30) rotate(-90)" font-family="'Liberation Sans', sans-serif" font-size="10.7" fill="#262626" stroke="#262626" stroke-width="0.24" textLength="42.3" lengthAdjust="spacingAndGlyphs">31 (1.22)</text>
<path d="M528.00 493.10L639.30 493.10" stroke="#262626" stroke-width="1.0" fill="none" />
<polygon points="537.60,493.10 529.00,491.15 529.00,495.05" fill="#262626"/>
<polygon points="571.20,493.10 579.80,491.15 579.80,495.05" fill="#262626"/>
<text x="585.40" y="490.70" font-family="'Liberation Sans', sans-serif" font-size="10.7" fill="#262626" stroke="#262626" stroke-width="0.4" textLength="62.8" lengthAdjust="spacingAndGlyphs" >Ø 24,9 (0.98)</text>
<path d="M532.20 502.40L536.50 502.40" stroke="#262626" stroke-width="1.0" fill="none" />
<path d="M534.60 493.10L534.60 576.30" stroke="#262626" stroke-width="1.0" fill="none" />
<polygon points="534.60,502.40 532.65,493.80 536.55,493.80" fill="#262626"/>
<polygon points="534.60,525.60 532.65,534.20 536.55,534.20" fill="#262626"/>
<text transform="translate(532.30 576.30) rotate(-90)" font-family="'Liberation Sans', sans-serif" font-size="10.7" fill="#262626" stroke="#262626" stroke-width="0.24" textLength="42.3" lengthAdjust="spacingAndGlyphs">17 (0.67)</text>
<path d="M536.50 520.40L626.00 520.40" stroke="#262626" stroke-width="1.0" fill="none" />
<polygon points="546.20,520.40 537.60,518.45 537.60,522.35" fill="#262626"/>
<polygon points="562.60,520.40 571.20,518.45 571.20,522.35" fill="#262626"/>
<text x="572.80" y="517.90" font-family="'Liberation Sans', sans-serif" font-size="10.7" fill="#262626" stroke="#262626" stroke-width="0.4" textLength="61.8" lengthAdjust="spacingAndGlyphs" >Ø 11,9 (0.47)</text>
</svg>
</body></html>
